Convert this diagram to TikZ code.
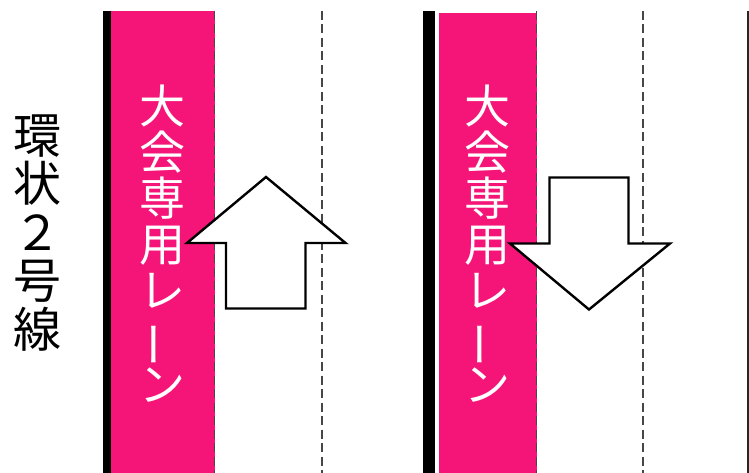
\documentclass[tikz,border=0pt]{standalone}
\usepackage{fontspec}
\usepackage{graphicx}
\newfontfamily\jpfont{Noto Sans CJK JP}
\definecolor{lanepink}{RGB}{245,20,120}
\definecolor{dashgray}{RGB}{70,70,70}
\tikzset{
  curb/.style={fill=black},
  lane/.style={fill=lanepink},
  divider/.style={dashgray,line width=1.3pt,dash pattern=on 9pt off 4.5pt},
  flow/.style={draw=black,fill=white,line width=2.4pt,line join=miter},
  lanetext/.style={text=white,inner sep=0pt,align=center,font=\jpfont\fontsize{46}{46}\selectfont},
  roadtext/.style={text=black,inner sep=0pt,align=center,font=\jpfont\fontsize{48}{48.5}\selectfont},
}
\begin{document}
\begin{tikzpicture}[x=1pt,y=-1pt]
    \useasboundingbox (0,0) rectangle (749,473);
    \def\ytop{11}%đỉnh
    \def\ybot{473}%đáy
    % lề trái
    \fill[curb] (103,\ytop) rectangle (111,\ybot);
    \fill[lane] (111,\ytop) rectangle (214.5,\ybot);
    % lề phải
    \fill[curb] (423,\ytop) rectangle (435,\ybot);
    \fill[lane] (439,13) rectangle (536.5,\ybot);
    \foreach \x in {214.5,322,536.5,643} \draw[divider] (\x,\ytop)--(\x,\ybot);
    \draw[line width=1.6pt,black!85] (748,\ytop)--(748,\ybot);
    % mũi tên
    \draw[flow] (266,177)--(345.5,243)--(305.5,243)--(305.5,308.5)--(226,308.5)--(226,243)--(187,243)--cycle;
    \draw[flow] (549.5,177.5)--(628.5,177.5)--(628.5,243.5)--(670,243.5)--(589,309.5)--(510,243.5)--(549.5,243.5)--cycle;
    % chữ
    \path
    foreach \n/\x in {laneL/162,laneR/487.5} {(\x,244) node[lanetext] (\n) {大\\会\\専\\用\\レ\\\rotatebox[origin=c]{90}{ー}\\ン}}
    (37,233) node[roadtext] (road) {環\\状\\２\\号\\線};
\end{tikzpicture}
\end{document}
